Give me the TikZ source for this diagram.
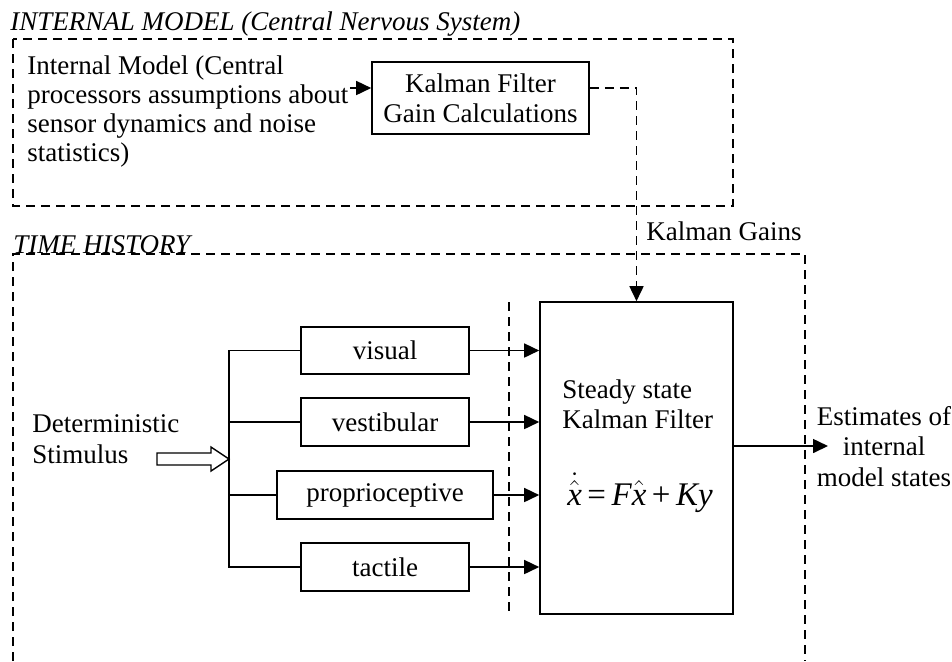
\documentclass[tikz,border=0pt]{standalone}
\usepackage{fontspec}
\setmainfont{Liberation Serif}
\usetikzlibrary{arrows.meta}

\begin{document}
\begin{tikzpicture}[x=0.5pt,y=-0.5pt,
  txt/.style={font=\fontsize{13.5pt}{15pt}\selectfont, inner sep=0pt},
  ittxt/.style={font=\fontsize{13.5pt}{15pt}\selectfont\itshape, inner sep=0pt},
  lbl/.style={txt, anchor=base west},
  blk/.style={txt, draw, line width=0.8pt, align=center},
  sline/.style={line width=0.8pt},
  dline/.style={line width=0.8pt, dash pattern=on 4.5pt off 3pt},
  tip/.style={-{Triangle[length=7.5pt,width=7pt]}},
]
\useasboundingbox (0,0) rectangle (952,661);

% ---------- internal model (CNS) ----------
\node[ittxt, anchor=base west] (imtitle) at (10,30) {INTERNAL MODEL (Central Nervous System)};
\draw[dline] (13,39) rectangle (733,206);

\node[lbl] (iml1) at (27,74)  {Internal Model (Central};
\node[lbl] (iml2) at (27,103) {processors assumptions about};
\node[lbl] (iml3) at (27,132) {sensor dynamics and noise};
\node[lbl] (iml4) at (27,161) {statistics)};

\node[blk, minimum width=108.5pt, minimum height=36pt] (gain) at (480.5,98)
  {Kalman Filter\\Gain Calculations};

\coordinate (gturn) at (636.5,88);
\draw[sline,tip,shorten <=0.5pt] (iml2.east |- gturn) -- (gain.west |- gturn);

% ---------- time history ----------
\node[ittxt, anchor=base west] (thtitle) at (13,253) {TIME HISTORY};
\draw[dline] (13,661) -- (13,254) -- (805,254) -- (805,661);

\node[lbl] (kglbl) at (646,240) {Kalman Gains};

% steady state filter
\node[blk, minimum width=96.5pt, minimum height=156pt] (kf) at (636.5,458) {};
\node[lbl] (kft1) at (562,398) {Steady state};
\node[lbl] (kft2) at (562,428) {Kalman Filter};
\node[inner sep=0pt, anchor=base, font=\fontsize{16.5pt}{18pt}\selectfont] (kfeq) at (640,505)
  {$\dot{\hat{\mbox{\itshape x}}}\mbox{\,=\,}\mbox{\itshape F}\hat{\mbox{\itshape x}}\mbox{\,+\,}\mbox{\itshape Ky}$};

\draw[dline,tip] (gain.east |- gturn) -- (gturn) -- (kf.north);
\draw[dline] (509,302) -- (509,614);

% sensors
\node[blk, minimum width=84pt, minimum height=23.5pt] (vis) at (385,350.5) {visual};
\node[blk, minimum width=84pt, minimum height=24pt]   (ves) at (385,422)   {vestibular};
\node[blk, minimum width=108pt, minimum height=24pt]  (pro) at (385,495)   {proprioceptive};
\node[blk, minimum width=84pt, minimum height=24pt]   (tac) at (385,567)   {tactile};

\coordinate (trunk) at (229,459);
\draw[sline] (vis.west) -- (vis.west -| trunk) -- (tac.west -| trunk) -- (tac.west);
\draw[sline] (ves.west) -- (ves.west -| trunk);
\draw[sline] (pro.west) -- (pro.west -| trunk);

\foreach \s in {vis,ves,pro,tac}
  \draw[sline,tip] (\s.east) -- (\s.east -| kf.west);

% stimulus
\node[lbl] (det1) at (32,432) {Deterministic};
\node[lbl] (det2) at (32,463) {Stimulus};
\draw[line width=0.7pt] (157,453) -- (211,453) -- (211,447) -- (trunk)
  -- (211,471) -- (211,465) -- (157,465) -- cycle;

% estimates
\node[txt, anchor=base] (est1) at (884,425) {Estimates of};
\node[txt, anchor=base] (est2) at (884,455) {internal};
\node[txt, anchor=base] (est3) at (884,486) {model states};
\coordinate (outend) at (828,446);
\draw[sline,tip] (kf.east |- outend) -- (outend);
\end{tikzpicture}
\end{document}
